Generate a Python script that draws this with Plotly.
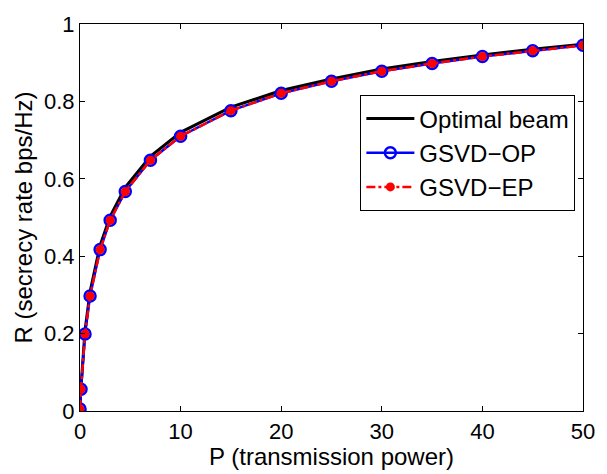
import plotly.graph_objects as go

# transmission power P
p = [0, 0.1, 0.5, 1, 2, 3, 4.5, 7, 10, 15, 20, 25, 30, 35, 40, 45, 50]

# secrecy rate R (bps/Hz)
r_optimal = [0.01, 0.062, 0.208, 0.308, 0.428, 0.503, 0.578, 0.658, 0.72, 0.785, 0.828, 0.858, 0.884, 0.903, 0.92, 0.935, 0.948]
r_op = [0.005, 0.056, 0.199, 0.297, 0.417, 0.493, 0.567, 0.648, 0.71, 0.776, 0.821, 0.852, 0.878, 0.898, 0.916, 0.931, 0.945]
r_ep = [0.005, 0.056, 0.199, 0.297, 0.417, 0.493, 0.567, 0.648, 0.71, 0.776, 0.821, 0.852, 0.878, 0.898, 0.916, 0.931, 0.945]

x_ticks = [0, 10, 20, 30, 40, 50]
y_ticks = [0, 0.2, 0.4, 0.6, 0.8, 1]
y_labels = ["0", "0.2", "0.4", "0.6", "0.8", "1"]

fig = go.Figure()
fig.add_trace(go.Scatter(x=p, y=r_optimal, mode='lines', name='Optimal beam',
                         line=dict(color='black', width=3)))
fig.add_trace(go.Scatter(x=p, y=r_op, mode='lines+markers', name='GSVD\u2212OP',
                         line=dict(color='#0000ff', width=2.5),
                         marker=dict(symbol='circle-open', size=11, color='#0000ff',
                                     line=dict(width=2.5, color='#0000ff'))))
fig.add_trace(go.Scatter(x=p, y=r_ep, mode='lines+markers', name='GSVD\u2212EP',
                         line=dict(color='#ff0000', width=2.5, dash='dashdot'),
                         marker=dict(symbol='circle', size=9, color='#ff0000')))

axis_style = dict(showline=True, linecolor='black', linewidth=1.2, mirror='ticks',
                  ticks='inside', ticklen=5, tickcolor='black', showgrid=False,
                  zeroline=False, tickfont=dict(size=22, color='black'))

fig.update_xaxes(range=[0, 50], tickvals=x_ticks,
                 title=dict(text='P (transmission power)', font=dict(size=24, color='black'), standoff=2),
                 **axis_style)
fig.update_yaxes(range=[0, 1], tickvals=y_ticks, ticktext=y_labels,
                 title=dict(text='R (secrecy rate bps/Hz)', font=dict(size=24, color='black'), standoff=4),
                 **axis_style)

fig.update_layout(
    width=607, height=474,
    margin=dict(l=80, r=15, t=15, b=61),
    plot_bgcolor='white', paper_bgcolor='white',
    font=dict(family='Liberation Sans, Arial, sans-serif', color='black'),
    legend=dict(x=0.557, y=0.816, xanchor='left', yanchor='top',
                bgcolor='white', bordercolor='black', borderwidth=1.2,
                font=dict(size=24, color='black'), tracegroupgap=0, itemwidth=48),
)
fig.write_html("out.html", config={'displayModeBar': False},
               post_script="document.body.style.margin='0px';")
